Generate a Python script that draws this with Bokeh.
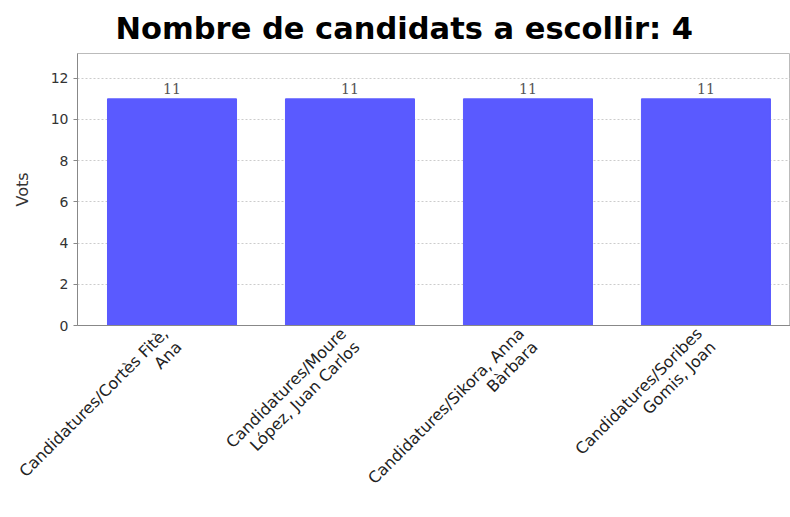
from bokeh.plotting import figure
from bokeh.models import Range1d, FixedTicker, ColumnDataSource
from bokeh.core.properties import value
from bokeh.embed import file_html
from bokeh.resources import INLINE
import math

categories = [
    "Candidatures/Cortès Fitè,\nAna",
    "Candidatures/Moure\nLópez, Juan Carlos",
    "Candidatures/Sikora, Anna\nBàrbara",
    "Candidatures/Soribes\nGomis, Joan",
]
votes = [11, 11, 11, 11]
y_ticks = [0, 2, 4, 6, 8, 10, 12]

xs = list(range(1, len(categories) + 1))
src = ColumnDataSource(dict(x=xs, top=votes, lab=[str(v) for v in votes]))

p = figure(width=790, height=517, output_backend="svg", toolbar_location=None,
           x_range=Range1d(0.469, 4.475), y_range=Range1d(0, 13.2),
           title="Nombre de candidats a escollir: 4",
           min_border_left=77, min_border_right=0, min_border_top=52,
           min_border_bottom=191)

p.vbar(x="x", top="top", width=0.725, bottom=0, source=src,
       fill_color="#5a5aff", line_color="#5a5aff")
p.text(x="x", y="top", text="lab", source=src, text_align="center",
       text_baseline="bottom", y_offset=-5, text_font=value("DejaVu Serif"),
       text_font_size="14px", text_color="#555555")

p.title.align = "left"
p.title.offset = 38
p.title.standoff = 16
p.title.text_font = "DejaVu Sans"
p.title.text_font_size = "30.5px"
p.title.text_font_style = "bold"
p.title.text_color = "#000000"

p.xaxis.ticker = FixedTicker(ticks=xs)
p.xaxis.major_label_overrides = {x: c for x, c in zip(xs, categories)}
p.xaxis.major_label_orientation = math.pi / 4
p.xaxis.major_label_standoff = 12
p.xaxis.major_label_text_line_height = 1.0
p.xaxis.major_tick_in = 0
p.xaxis.major_tick_out = 0
p.xaxis.major_tick_line_color = None
p.xaxis.minor_tick_line_color = None
p.xaxis.major_label_text_font = "DejaVu Sans"
p.xaxis.major_label_text_font_size = "16px"
p.xaxis.major_label_text_color = "#222222"
p.xaxis.axis_line_color = "#888888"

p.yaxis.ticker = FixedTicker(ticks=y_ticks)
p.yaxis.axis_label = "Vots"
p.yaxis.axis_label_text_font_style = "normal"
p.yaxis.axis_label_text_font = "DejaVu Sans"
p.yaxis.axis_label_text_font_size = "16px"
p.yaxis.axis_label_text_color = "#333333"
p.yaxis.axis_label_standoff = 16
p.yaxis.major_label_text_font = "DejaVu Sans"
p.yaxis.major_label_text_font_size = "14px"
p.yaxis.major_label_text_color = "#333333"
p.yaxis.minor_tick_line_color = None
p.yaxis.major_tick_in = 0
p.yaxis.major_tick_out = 4
p.yaxis.major_tick_line_color = "#888888"
p.yaxis.axis_line_color = "#888888"

p.xgrid.grid_line_color = None
p.ygrid.grid_line_color = "#cccccc"
p.ygrid.grid_line_dash = "2 2"

p.outline_line_color = "#bbbbbb"
p.background_fill_color = "white"
p.border_fill_color = "white"

open("out.html", "w").write(file_html(p, INLINE))
